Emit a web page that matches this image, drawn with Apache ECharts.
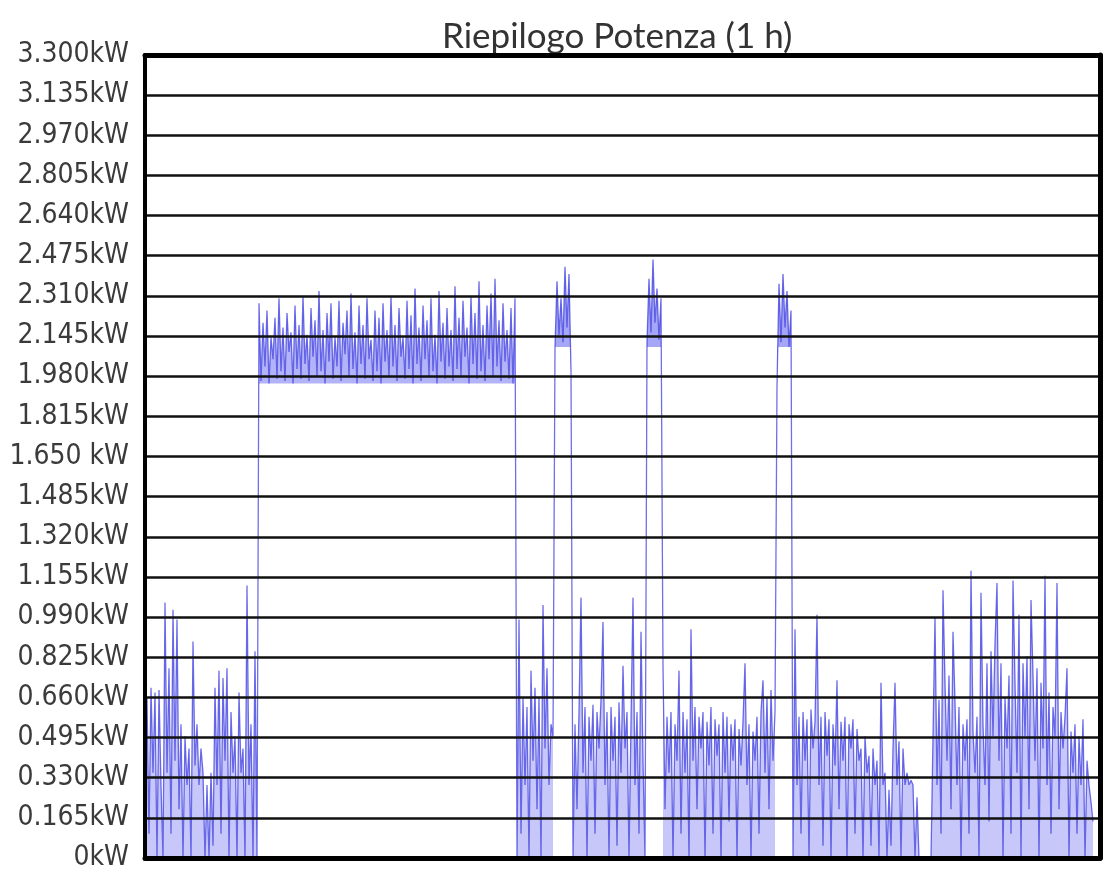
<!DOCTYPE html>
<html><head><meta charset="utf-8">
<script src="https://cdn.jsdelivr.net/npm/echarts@6/dist/echarts.min.js"></script>
<style>html,body{margin:0;padding:0;background:#fff}#c{width:1114px;height:892px}</style>
</head><body><div id="c"></div>
<script>
const chartTitle = 'Riepilogo Potenza (1 h)';
const yTickLabels = ['0kW','0.165kW','0.330kW','0.495kW','0.660kW','0.825kW','0.990kW','1.155kW','1.320kW','1.485kW','1.650 kW','1.815kW','1.980kW','2.145kW','2.310kW','2.475kW','2.640kW','2.805kW','2.970kW','3.135kW','3.300kW'];
// low-power stretches
const segA = [0.66,0.10,0.70,0.35,0.68,0.00,0.69,0.30,0.00,1.05,
0.35,0.78,0.10,1.02,0.40,0.98,0.20,0.55,0.00,0.50,
0.30,0.45,0.00,0.89,0.38,0.55,0.30,0.45,0.35,0.00,
0.30,0.00,0.35,0.05,0.70,0.30,0.77,0.10,0.74,0.40,
0.78,0.00,0.60,0.35,0.50,0.00,0.68,0.35,0.45,0.00,
1.12,0.30,0.55,0.00,0.85,0.00];
// high-power plateau
const segB = [2.28,1.96,2.20,2.02,2.25,1.95,2.14,2.05,2.22,1.97,
2.30,2.00,2.18,1.96,2.24,2.08,2.16,1.95,2.27,2.01,
2.19,1.97,2.31,2.03,2.15,1.96,2.26,2.06,2.21,1.98,
2.33,2.00,2.17,1.95,2.24,2.04,2.28,1.97,2.14,2.02,
2.29,1.96,2.20,2.07,2.25,1.98,2.32,2.01,2.16,1.95,
2.27,2.03,2.19,1.97,2.30,2.05,2.13,1.96,2.25,2.00,
2.22,1.95,2.28,2.04,2.17,1.98,2.31,2.02,2.19,1.96,
2.26,2.06,2.14,1.97,2.29,2.01,2.23,1.95,2.34,2.03,
2.18,1.96,2.27,2.05,2.21,1.98,2.30,2.00,2.15,1.95,
2.33,2.04,2.20,1.97,2.26,2.02,2.17,1.96,2.35,2.01,
2.22,1.98,2.29,2.06,2.18,1.95,2.31,2.03,2.24,1.97,
2.37,2.00,2.19,1.96,2.27,2.05,2.32,1.98,2.38,2.02,
2.21,1.96,2.28,2.04,2.17,1.97,2.26,1.95,2.30];
const segC = [0.00,0.98,0.10,0.66,0.30,0.62,0.00,0.77,0.40,0.70,0.20,0.66,0.00,1.04,0.45,0.78,0.30,0.55,0.50];
// short high-power bursts
const segD = [2.10,2.37,2.15,2.30,2.12,2.43,2.18,2.40,2.00];
const segE = [0.00,0.55,0.20,0.60,1.07,0.35,0.62,0.00,0.58,0.40,
0.63,0.10,0.60,0.45,0.65,0.97,0.30,0.60,0.00,0.62,
0.40,0.58,0.05,0.64,0.35,0.79,0.45,0.60,0.00,0.56,
1.07,0.30,0.60,0.10,0.93,0.40,0.00];
const segF = [2.12,2.38,2.16,2.46,2.20,2.34,2.13,2.30];
const segG = [0.79,0.20,0.58,0.35,0.60,0.00,0.55,0.40,0.77,0.10,
0.60,0.35,0.57,0.00,0.94,0.40,0.62,0.20,0.58,0.45,
0.60,0.00,0.56,0.38,0.62,0.10,0.57,0.42,0.55,0.00,
0.60,0.35,0.58,0.15,0.55,0.40,0.57,0.00,0.53,0.38,
0.56,0.80,0.30,0.55,0.00,0.52,0.40,0.58,0.10,0.60,
0.73,0.35,0.66,0.20,0.69,0.40,0.60];
const segH = [1.94,2.36,2.12,2.40,2.18,2.33,2.10,2.25];
const segI = [0.00,0.94,0.30,0.58,0.10,0.60,0.40,0.57,0.00,0.61,
0.45,0.56,1.00,0.30,0.58,0.05,0.60,0.42,0.57,0.00,
0.55,0.38,0.73,0.20,0.56,0.40,0.58,0.00,0.55,0.45,
0.57,0.10,0.53,0.40,0.45,0.00,0.50,0.35,0.42,0.05,
0.45,0.30,0.40,0.00,0.72,0.30,0.35,0.00,0.28,0.05,
0.45,0.72,0.30,0.48,0.00,0.45,0.30,0.35,0.30,0.32,
0.30];
const segJ = [0.00,0.25,0.00,0.00,0.00,0.00,0.00,0.00,0.00];
const segK = [0.00,0.99,0.30,0.65,0.10,1.10,0.72,0.40,0.75,0.20,
0.93,0.64,0.30,0.62,0.00,0.55,0.40,0.57,0.10,1.18,
0.52,0.35,0.58,0.00,1.09,0.55,0.30,0.80,0.15,0.85,
0.50,0.88,1.13,0.40,0.80,0.00,0.66,0.45,0.75,0.10,
1.14,0.72,0.35,1.00,0.00,0.80,0.50,0.83,0.20,1.06,
0.75,0.40,0.78,0.00,0.72,0.45,1.16,0.30,0.68,0.10,
0.62,0.50,1.13,0.20,0.60,0.45,0.58,0.78,0.00,0.52,
0.35,0.55,0.10,0.50,0.30,0.57,0.00,0.40,0.30,0.23,
0.15];
const plateauBase = 1.95; // lower edge of the long high-power band (kW)
const burstBase = 2.10;   // lower edge of the short bursts (kW)

const segments = [
  {vals: segA, kind: 'low'}, {vals: segB, kind: 'plateau'}, {vals: segC, kind: 'low'},
  {vals: segD, kind: 'burst'}, {vals: segE, kind: 'low'}, {vals: segF, kind: 'burst'},
  {vals: segG, kind: 'low'}, {vals: segH, kind: 'burst'}, {vals: segI, kind: 'low'},
  {vals: segJ, kind: 'low'}, {vals: segK, kind: 'low'}
];
const allData = [], lowData = [], plateauData = [], burstData = [];
let idx = 1;
segments.forEach(s => {
  s.vals.forEach(v => {
    allData.push([idx, v]);
    lowData.push([idx, s.kind === 'low' ? v : null]);
    plateauData.push([idx, s.kind === 'plateau' ? v : null]);
    burstData.push([idx, s.kind === 'burst' ? v : null]);
    idx++;
  });
});

const chart = echarts.init(document.getElementById('c'), null, {renderer: 'canvas'});
const labelFont = "'Liberation Sans Narrow','DejaVu Sans Condensed','Open Sans',sans-serif";
const fillSeries = (name, data, color, origin) => ({
  name, type: 'line', data, connectNulls: false,
  showSymbol: false, symbol: 'none', sampling: null,
  lineStyle: {width: 0, opacity: 0},
  areaStyle: {color, origin},
  z: 1
});
chart.setOption({
  backgroundColor: '#ffffff',
  animation: false,
  title: {
    text: chartTitle,
    left: 437, top: 14,
    textStyle: {color: '#333333', fontSize: 35, fontWeight: 'normal', fontFamily: "Lato, 'Open Sans', sans-serif"}
  },
  grid: {left: 145, right: 14, top: 55, bottom: 34, containLabel: false},
  xAxis: [{
    type: 'value', min: 0, max: 477.5, position: 'bottom', z: 10,
    axisLine: {show: true, lineStyle: {color: '#000', width: 5}},
    axisTick: {show: false}, axisLabel: {show: false}, splitLine: {show: false}
  }, {
    type: 'value', min: 0, max: 477.5, position: 'top', z: 10,
    axisLine: {show: true, onZero: false, lineStyle: {color: '#000', width: 5}},
    axisTick: {show: false}, axisLabel: {show: false}, splitLine: {show: false}
  }],
  yAxis: [{
    type: 'value', min: 0, max: 3.3, interval: 0.165, position: 'left', z: 10,
    axisLine: {show: true, onZero: false, lineStyle: {color: '#000', width: 4}},
    axisTick: {show: false},
    splitLine: {show: true, lineStyle: {color: '#111', width: 2.5}},
    axisLabel: {
      margin: 16, color: '#3a3a3a', fontSize: 28, fontFamily: labelFont,
      padding: [6, 0, 0, 0],
      formatter: v => yTickLabels[Math.round(v / 0.165)] || ''
    }
  }, {
    type: 'value', min: 0, max: 3.3, interval: 0.165, position: 'right', z: 10,
    axisLine: {show: true, onZero: false, lineStyle: {color: '#000', width: 5}},
    axisTick: {show: false}, axisLabel: {show: false}, splitLine: {show: false}
  }],
  series: [
    fillSeries('lowFill', lowData, 'rgba(95,95,238,0.5)', 0),
    fillSeries('plateauFill', plateauData, 'rgba(75,75,238,0.6)', plateauBase),
    fillSeries('burstFill', burstData, 'rgba(60,60,235,0.65)', burstBase),
    {
      name: 'Potenza', type: 'line', data: allData,
      showSymbol: false, symbol: 'none', sampling: null,
      lineStyle: {color: 'rgba(50,50,222,0.7)', width: 1.3},
      z: 2
    }
  ]
});
</script></body></html>
